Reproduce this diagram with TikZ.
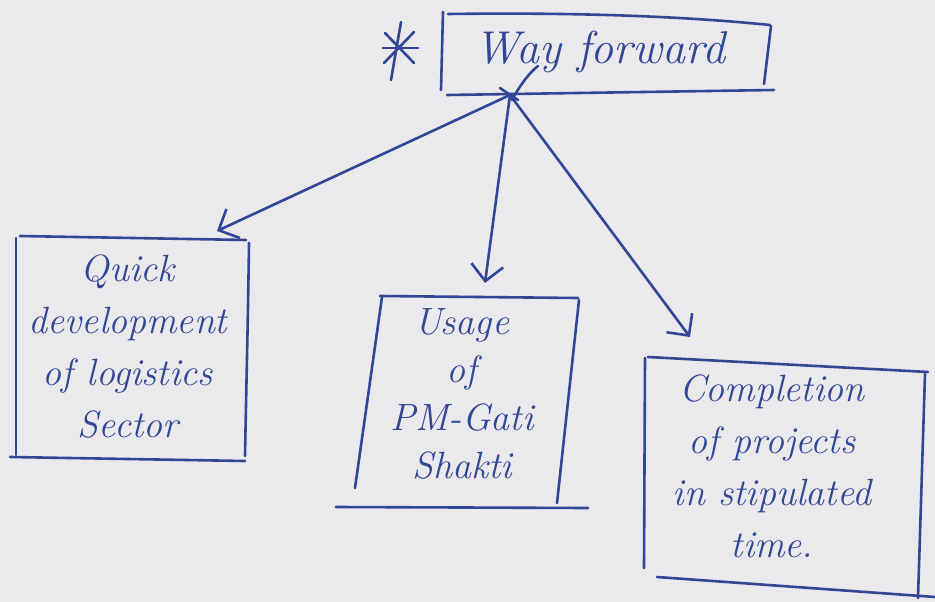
\documentclass[tikz,border=0pt]{standalone}
\usetikzlibrary{arrows.meta}
\definecolor{paper}{RGB}{234,233,236}
\definecolor{ink}{RGB}{50,70,150}
\begin{document}
\begin{tikzpicture}[x=1pt,y=-1pt,
  inkline/.style={draw=ink,line width=2.6pt,line cap=round,line join=round},
  link/.style={inkline,-{Straight Barb[length=16pt,width=32pt]}},
  label/.style={text=ink,font=\fontsize{38}{52}\selectfont\itshape,align=center,inner sep=0pt}]
\fill[paper] (0,0) rectangle (935,602);
\useasboundingbox (0,0) rectangle (935,602);

% headings and box texts
\node[label,font=\fontsize{46}{50}\selectfont\itshape] (wf) at (600,52) {Way forward};
\node[label] (quick) at (128,347) {Quick\\development\\of logistics\\Sector};
\node[label,font=\fontsize{38}{48}\selectfont\itshape] (usage) at (462,394) {Usage\\of\\PM-Gati\\Shakti};
\node[label] (done) at (772,466) {Completion\\of projects\\in stipulated\\time.};

% asterisk in front of the heading
\draw[inkline] (401,22) -- (391,80);
\draw[inkline] (383,48) -- (418,48);
\draw[inkline] (385,33) -- (414,63);
\draw[inkline] (414,32) -- (384,63);

% hand-drawn frames
\draw[inkline] (443,12) -- (441,90);
\draw[inkline] (448,14) .. controls (600,12) and (700,18) .. (770,25);
\draw[inkline] (771,26) -- (764,84);
\draw[inkline] (447,95) -- (774,90);

\draw[inkline] (16,238) -- (16,455);
\draw[inkline] (20,236) -- (246,240);
\draw[inkline] (249,243) .. controls (248,320) and (246,400) .. (245,456);
\draw[inkline] (10,457) -- (245,461);

\draw[inkline] (382,297) -- (355,488);
\draw[inkline] (380,296) -- (578,298);
\draw[inkline] (579,300) -- (557,503);
\draw[inkline] (336,507) -- (588,508);

\draw[inkline] (645,358) -- (644,568);
\draw[inkline] (648,357) -- (928,372);
\draw[inkline] (925,374) -- (918,598);
\draw[inkline] (657,577) -- (935,597);

% branching point under the heading
\coordinate (hub) at (510,95);
\draw[inkline] (500,88) -- (518,100);
\draw[inkline] (512,100) .. controls (520,85) and (530,72) .. (538,66);

% arrow ends above each box
\coordinate (tipQ) at (217,231);
\coordinate (tipU) at (485,283);
\coordinate (tipC) at (690,337);

\draw[link] (hub) -- (tipQ);
\draw[link] (hub) -- (tipU);
\draw[link] (hub) -- (tipC);
\end{tikzpicture}
\end{document}
